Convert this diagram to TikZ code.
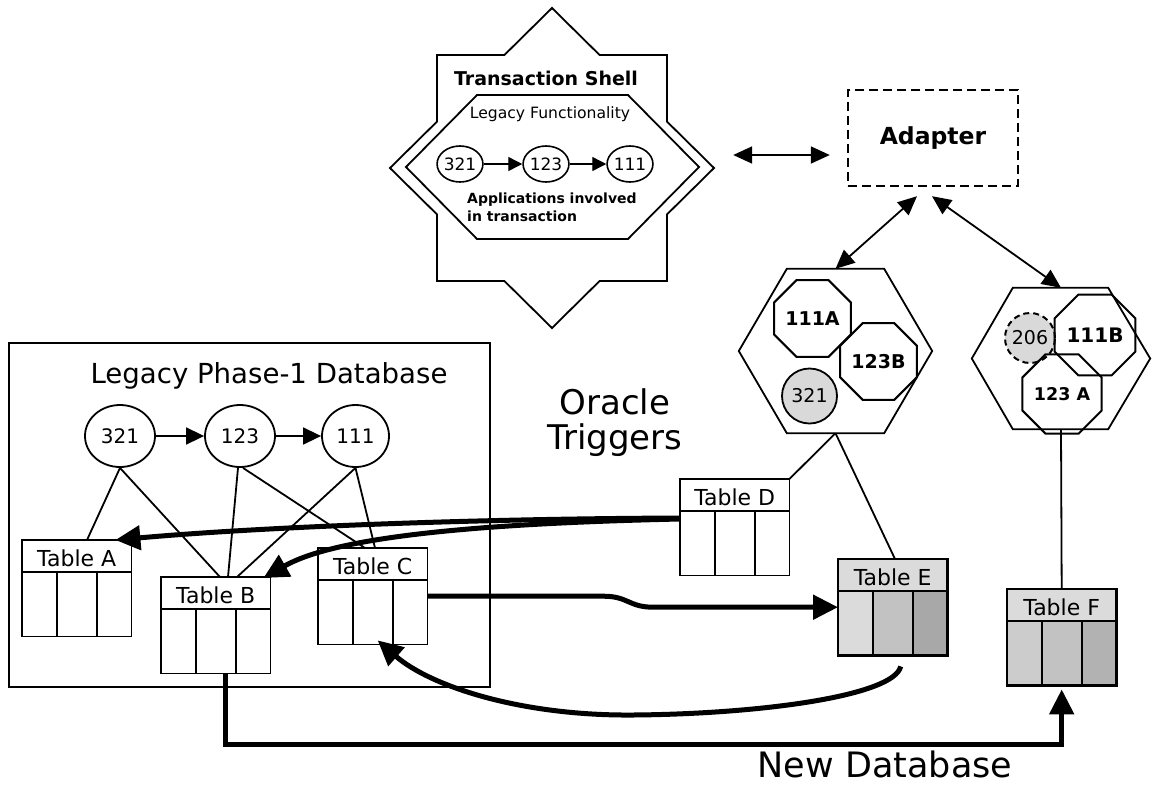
\documentclass[tikz,border=0pt]{standalone}
\usepackage{fontspec}
\setmainfont{DejaVu Sans}
\usetikzlibrary{arrows.meta,calc,shapes.geometric}
\newcommand\pxf[2]{\fontsize{#1}{#2}\selectfont}
\tikzset{
  conn/.style={line width=1.8pt},
  bigarr/.style={line width=5pt,-{Triangle[length=25pt,width=24pt]}},
  dblarr/.style={line width=1.8pt,{Triangle[length=19pt,width=17pt]}-{Triangle[length=19pt,width=17pt]}},
  smallarr/.style={line width=1.6pt,-{Triangle[length=18pt,width=17pt]}},
  shellarr/.style={line width=1.4pt,-{Triangle[length=14pt,width=14pt]}},
  oct/.style={regular polygon, regular polygon sides=8, draw, line width=2pt, inner sep=0pt, font=\pxf{19}{19}\bfseries},
  legell/.style={ellipse, draw, line width=1.8pt, minimum width=70pt, minimum height=62pt, inner sep=0pt, font=\pxf{20}{20}},
  shellell/.style={ellipse, draw, line width=1.6pt, minimum width=40pt, minimum height=36pt, inner sep=0pt, font=\pxf{17}{17}},
  anchorbox/.style={inner sep=0pt, draw=none},
  tbltext/.style={font=\pxf{22}{22}, anchor=base, inner sep=0pt},
}
% #1 name, #2 left, #3 top, #4 label, #5 header fill, #6-#8 column fills, #9 border width
\newcommand\dbtable[9]{%
  \node[anchorbox, minimum width=109pt, minimum height=96pt, anchor=north west] (#1) at (#2,#3) {};
  \fill[#5] (#1.north west) rectangle ($(#1.north east)+(0,32)$);
  \fill[#6] ($(#1.north west)+(0,32)$) rectangle ($(#1.south west)+(35,0)$);
  \fill[#7] ($(#1.north west)+(35,32)$) rectangle ($(#1.south west)+(75,0)$);
  \fill[#8] ($(#1.north west)+(75,32)$) rectangle (#1.south east);
  \draw[line width=#9] (#1.north west) rectangle (#1.south east);
  \draw[line width=#9] ($(#1.north west)+(0,32)$) -- ($(#1.north east)+(0,32)$);
  \draw[line width=#9] ($(#1.north west)+(35,32)$) -- ($(#1.south west)+(35,0)$);
  \draw[line width=#9] ($(#1.north west)+(75,32)$) -- ($(#1.south west)+(75,0)$);
  \node[tbltext] at ($(#1.north)+(0,26)$) {#4};
}
\begin{document}
\begin{tikzpicture}[x=1pt,y=-1pt]
\useasboundingbox (0,0) rectangle (1152,788);
\fill[white] (0,0) rectangle (1152,788);

% ---------------- Transaction shell ----------------
\node[anchorbox, minimum width=324pt, minimum height=320pt] (shell) at (552,168) {};
\draw[line width=1.8pt] (552,8) -- (599.6,55) -- (667,55) -- (667,121.6) -- (714,168)
  -- (667,214.4) -- (667,281) -- (599.6,281) -- (552,328) -- (504.4,281) -- (437,281)
  -- (437,214.4) -- (390,168) -- (437,121.6) -- (437,55) -- (504.4,55) -- cycle;
\draw[line width=1.8pt] (406,167) -- (477,95) -- (628,95) -- (699,167) -- (628,239) -- (477,239) -- cycle;
\node[font=\pxf{19}{19}\bfseries, anchor=base, inner sep=0pt] at (546,85) {Transaction Shell};
\node[font=\pxf{15.6}{16}, anchor=base, inner sep=0pt] at (550,118) {Legacy Functionality};
\node[shellell] (s321) at (460,164) {321};
\node[shellell] (s123) at (546,164) {123};
\node[shellell] (s111) at (630,164) {111};
\draw[shellarr] (s321) -- (s123);
\draw[shellarr] (s123) -- (s111);
\node[font=\pxf{14}{18}\bfseries, anchor=north west, align=left, inner sep=0pt] at (467,193) {Applications involved\\in transaction};

% ---------------- Adapter ----------------
\node[draw, line width=2.4pt, dash pattern=on 9pt off 5pt, minimum width=170pt, minimum height=96pt,
      font=\pxf{23.5}{24}\bfseries] (adapter) at (933,138) {Adapter};
\draw[dblarr] ($(shell.east)+(19,-13)$) -- ($(adapter.west)+(-17,17)$);

% ---------------- Hexagons ----------------
\node[anchorbox, minimum width=193pt, minimum height=164pt] (hex1) at (835.5,351) {};
\draw[line width=1.8pt] (hex1.west) -- ($(hex1.north west)+(48,0)$) -- ($(hex1.north east)+(-48,0)$)
  -- (hex1.east) -- ($(hex1.south east)+(-48,0)$) -- ($(hex1.south west)+(48,0)$) -- cycle;
\node[anchorbox, minimum width=178pt, minimum height=141pt] (hex2) at (1061,358.5) {};
\draw[line width=1.8pt] (hex2.west) -- ($(hex2.north west)+(41,0)$) -- ($(hex2.north east)+(-42,0)$)
  -- (hex2.east) -- ($(hex2.south east)+(-42,0)$) -- ($(hex2.south west)+(41,0)$) -- cycle;
\draw[dblarr] ($(adapter.south)+(-16,9)$) -- (hex1.north);
\draw[dblarr] ($(adapter.south)+(-1,9)$) -- (hex2.north);

\node[oct, minimum size=76pt] (o111A) at (812.5,318.5) {111A};
\node[oct, minimum size=76pt] (o123B) at (878.5,361.5) {123B};
\node[circle, draw, line width=1.8pt, fill=black!15, minimum size=55pt, inner sep=0pt, font=\pxf{19}{19}] (c321) at (809.5,396) {321};
\node[circle, draw, line width=2pt, dash pattern=on 6pt off 4pt, fill=black!15, minimum size=50pt, inner sep=0pt, font=\pxf{19}{19}] (c206) at (1030,338) {206};
\node[oct, minimum size=64pt, font=\pxf{20}{20}\bfseries] (o111B) at (1095,335) {111B};
\node[oct, minimum size=67pt, font=\pxf{17.5}{18}\bfseries] (o123A) at (1062,394) {123 A};

% ---------------- Legacy database ----------------
\node[draw, line width=1.6pt, minimum width=481pt, minimum height=344pt, anchor=north west, inner sep=0pt] (legacy) at (8,342) {};
\node[font=\pxf{27.6}{30}, anchor=base, inner sep=0pt] at (269,383) {Legacy Phase-1 Database};
\node[legell] (l321) at (120,436) {321};
\node[legell] (l123) at (240,436) {123};
\node[legell, minimum width=67pt] (l111) at (355.5,436) {111};
\draw[smallarr] (l321) -- (l123);
\draw[smallarr] (l123) -- (l111);

% ---------------- Tables ----------------
\dbtable{tA}{22}{540}{Table A}{white}{white}{white}{white}{1.8pt}
\dbtable{tB}{161}{577}{Table B}{white}{white}{white}{white}{1.8pt}
\dbtable{tC}{318}{548}{Table C}{white}{white}{white}{white}{1.8pt}
\dbtable{tD}{680}{479}{Table D}{white}{white}{white}{white}{1.8pt}
\dbtable{tE}{838}{559}{Table E}{black!14}{black!14}{black!24}{black!34}{2.6pt}
\dbtable{tF}{1007}{589}{Table F}{black!14}{black!20}{black!24}{black!30}{2.6pt}

% legacy thin links
\draw[conn] (l321.south) -- ($(tA.north west)+(65,0)$);
\draw[conn] (l321.south) -- ($(tB.north west)+(59,0)$);
\draw[conn] ($(l123.south)+(-2,0)$) -- ($(tB.north west)+(67,0)$);
\draw[conn] ($(l123.south)+(3,0)$) -- ($(tC.north west)+(47,0)$);
\draw[conn] (l111.south) -- ($(tB.north west)+(76,0)$);
\draw[conn] (l111.south) -- ($(tC.north west)+(57,0)$);

% hexagon links
\draw[conn] (hex1.south) -- (tD.north east);
\draw[conn] (hex1.south) -- ($(tE.north west)+(57,0)$);
\draw[conn] (hex2.south) -- (tF.north);

% ---------------- Oracle trigger arrows ----------------
\draw[bigarr] ($(tD.north west)+(0,39)$) .. controls (450,519) and (250,528) .. ($(tA.north east)+(-16,0)$);
\draw[bigarr] ($(tD.north west)+(0,40)$) .. controls (450,524) and (330,540) .. ($(tB.north east)+(-7,1)$);
\draw[bigarr] (tC.east) -- ++(176,0) .. controls +(25,0) and +(-25,0) .. ++(50,11) -- (tE.west);
\draw[bigarr] ($(tE.south)+(8,11)$) .. controls (894,696) and (760,714) .. (633,715)
  .. controls (520,716) and (430,686) .. ($(tC.south)+(5,-4)$);
\draw[bigarr] ($(tB.south)+(10,0)$) -- ++(0,71) -| ($(tF.south)+(0,4)$);

% ---------------- Labels ----------------
\node[font=\pxf{34}{35}, align=center, anchor=north, inner sep=0pt] at (615,388) {Oracle\\Triggers};
\node[font=\pxf{35}{36}, anchor=base, inner sep=0pt] at (885,777) {New Database};
\end{tikzpicture}
\end{document}
